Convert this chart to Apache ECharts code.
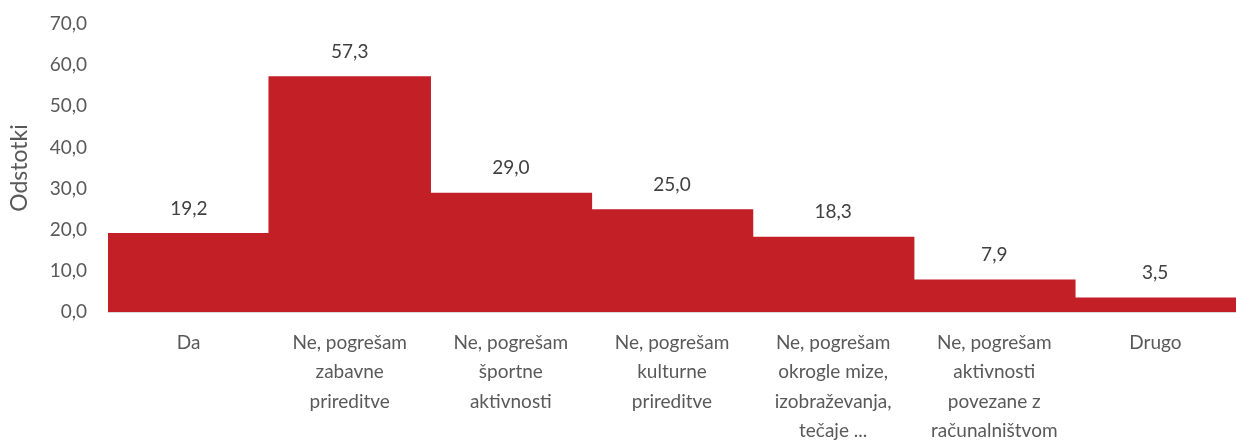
<!DOCTYPE html>
<html>
<head>
<meta charset="utf-8">
<script src="https://cdn.jsdelivr.net/npm/echarts@6/dist/echarts.min.js"></script>
<style>
  html, body { margin: 0; padding: 0; background: #fff; }
  #chart { width: 1236px; height: 443px; }
</style>
</head>
<body>
<div id="chart"></div>
<script>
// kategorije (prelomi vrstic kot na izvirniku)
const categories = [
  'Da',
  'Ne, pogrešam\nzabavne\nprireditve',
  'Ne, pogrešam\nšportne\naktivnosti',
  'Ne, pogrešam\nkulturne\nprireditve',
  'Ne, pogrešam\nokrogle mize,\nizobraževanja,\ntečaje ...',
  'Ne, pogrešam\naktivnosti\npovezane z\nračunalništvom',
  'Drugo'
];
const values = [19.2, 57.3, 29.0, 25.0, 18.3, 7.9, 3.5];

const fmt = v => Number(v).toFixed(1).replace('.', ',');
const font = 'Lato, "Open Sans", sans-serif';
const grey = '#595959';
const red = '#c21f26';

const chart = echarts.init(document.getElementById('chart'));
chart.setOption({
  animation: false,
  grid: { left: 108, right: 0, top: 24, bottom: 131, containLabel: false, outerBoundsMode: 'none' },
  xAxis: {
    type: 'category',
    data: categories,
    axisTick: { show: false },
    axisLine: { lineStyle: { color: '#d9d9d9', width: 1 } },
    axisLabel: {
      interval: 0, margin: 16,
      fontFamily: font, fontSize: 19, color: grey, lineHeight: 29.5,
      align: 'center'
    }
  },
  yAxis: {
    type: 'value',
    min: 0, max: 70, interval: 10,
    name: 'Odstotki',
    nameLocation: 'middle',
    nameGap: 77,
    nameTextStyle: { fontFamily: font, fontSize: 23, color: grey },
    axisLine: { show: false },
    axisTick: { show: false },
    splitLine: { show: false },
    axisLabel: {
      margin: 21,
      fontFamily: font, fontSize: 19, color: grey,
      formatter: fmt
    }
  },
  series: [{
    type: 'bar',
    data: values,
    barWidth: 162.5,   // malo širše od kategorije, da med stolpci ni svetlih šivov
    itemStyle: { color: red },
    label: {
      show: true, position: 'top', distance: 15,
      fontFamily: font, fontSize: 19, color: '#404040',
      formatter: p => fmt(p.value)
    }
  }]
});
</script>
</body>
</html>
